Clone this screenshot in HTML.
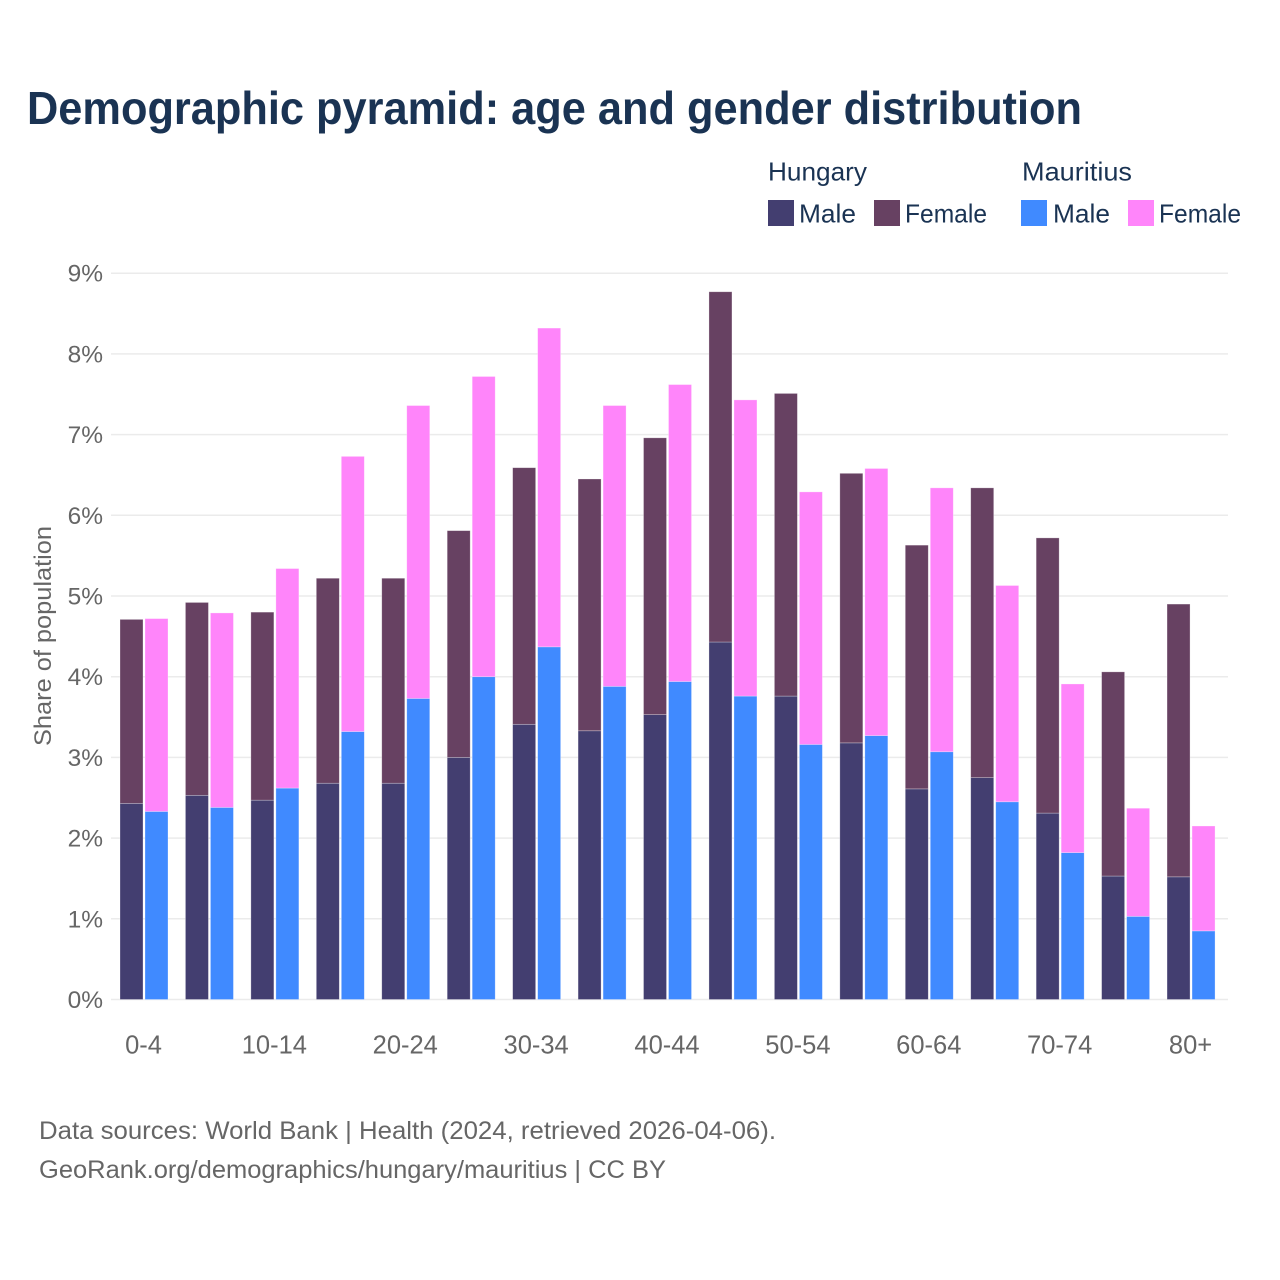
<!DOCTYPE html>
<html lang="en">
<head>
<meta charset="utf-8">
<title>Demographic pyramid: age and gender distribution</title>
<style>
html,body{margin:0;padding:0;background:#fff;width:1280px;height:1280px;overflow:hidden}
svg{display:block}
text{font-family:"Liberation Sans",sans-serif}
</style>
</head>
<body>
<svg id="chart" xmlns="http://www.w3.org/2000/svg" width="1280" height="1280" viewBox="0 0 1280 1280">
  <rect x="0" y="0" width="1280" height="1280" fill="#ffffff"/>
  <text x="27" y="124" font-size="46" font-weight="700" fill="#1a3353" textLength="1055" lengthAdjust="spacingAndGlyphs">Demographic pyramid: age and gender distribution</text>

  <g font-size="26" fill="#1a3353">
    <text x="768" y="180.5" textLength="99" lengthAdjust="spacingAndGlyphs">Hungary</text>
    <text x="1022" y="180.5" textLength="110" lengthAdjust="spacingAndGlyphs">Mauritius</text>
    <rect x="768" y="200" width="26" height="26" fill="#433e70"/>
    <text x="799" y="222.5" textLength="57" lengthAdjust="spacingAndGlyphs">Male</text>
    <rect x="874" y="200" width="26" height="26" fill="#674162"/>
    <text x="905" y="222.5" textLength="82" lengthAdjust="spacingAndGlyphs">Female</text>
    <rect x="1021" y="200" width="26" height="26" fill="#408aff"/>
    <text x="1053" y="222.5" textLength="57" lengthAdjust="spacingAndGlyphs">Male</text>
    <rect x="1128" y="200" width="26" height="26" fill="#ff85fa"/>
    <text x="1159" y="222.5" textLength="82" lengthAdjust="spacingAndGlyphs">Female</text>
  </g>

  <g id="grid"></g>
  <g id="yticks"></g>
  <g id="bars"></g>
  <g id="xticks"></g>

  <text transform="translate(51,746) rotate(-90)" x="0" y="0" font-size="24" fill="#666666" textLength="220" lengthAdjust="spacingAndGlyphs">Share of population</text>

  <text x="39" y="1139" font-size="25" fill="#666666" textLength="737" lengthAdjust="spacingAndGlyphs">Data sources: World Bank | Health (2024, retrieved 2026-04-06).</text>
  <text x="39" y="1178" font-size="25" fill="#666666" textLength="627" lengthAdjust="spacingAndGlyphs">GeoRank.org/demographics/hungary/mauritius | CC BY</text>
</svg>
<script>
const ageGroups = ["0-4","5-9","10-14","15-19","20-24","25-29","30-34","35-39","40-44","45-49","50-54","55-59","60-64","65-69","70-74","75-79","80+"];
const xTickLabels = ["0-4","","10-14","","20-24","","30-34","","40-44","","50-54","","60-64","","70-74","","80+"];
const yTickValues = [0,1,2,3,4,5,6,7,8,9];
const hungaryMale = [2.43,2.53,2.47,2.68,2.68,3.00,3.41,3.33,3.53,4.43,3.76,3.18,2.61,2.75,2.31,1.53,1.52];
const hungaryFemale = [2.28,2.39,2.33,2.54,2.54,2.81,3.18,3.12,3.43,4.34,3.75,3.34,3.02,3.59,3.41,2.53,3.38];
const mauritiusMale = [2.33,2.38,2.62,3.32,3.73,4.00,4.37,3.88,3.94,3.76,3.16,3.27,3.07,2.45,1.82,1.03,0.85];
const mauritiusFemale = [2.39,2.41,2.72,3.41,3.63,3.72,3.95,3.48,3.68,3.67,3.13,3.31,3.27,2.68,2.09,1.34,1.30];

const SVG_NS = "http://www.w3.org/2000/svg";
const plot = {left:111, right:1228, zeroY:999.5, perUnit:80.7, firstBar:120, step:65.44, barW:23, pairOffset:25};
const colors = {hm:"#433e70", hf:"#674162", mm:"#408aff", mf:"#ff85fa"};

function yScale(v){ return plot.zeroY - v * plot.perUnit; }
function xScale(i){ return plot.firstBar + i * plot.step; }

function make(tag, attrs, parent){
  const el = document.createElementNS(SVG_NS, tag);
  for (const k in attrs) el.setAttribute(k, attrs[k]);
  parent.appendChild(el);
  return el;
}

const gridG = document.getElementById("grid");
const yTickG = document.getElementById("yticks");
yTickValues.forEach(function(t){
  const line = make("line", {x1:plot.left, x2:plot.right, y1:yScale(t), y2:yScale(t), stroke:"#ebebeb", "stroke-width":1.5}, gridG);
  
  
  const label = make("text", {x:103, y:yScale(t)+8.5, "text-anchor":"end", "font-size":24.5, fill:"#666666"}, yTickG);
  
  
  label.textContent = t + "%";
});

const barsG = document.getElementById("bars");
function drawBar(x, base, value, fill, name){
  const top = yScale(base + value);
  const rect = make("rect", {x:x, y:top, width:plot.barW, height:yScale(base) - top, fill:fill, stroke:"#ffffff", "stroke-opacity":0.4, "stroke-width":0.7}, barsG);
  
  
}
ageGroups.forEach(function(age, i){
  const x1 = xScale(i);
  const x2 = x1 + plot.pairOffset;
  drawBar(x1, 0, hungaryMale[i], colors.hm, "bar-hungary-male");
  drawBar(x1, hungaryMale[i], hungaryFemale[i], colors.hf, "bar-hungary-female");
  drawBar(x2, 0, mauritiusMale[i], colors.mm, "bar-mauritius-male");
  drawBar(x2, mauritiusMale[i], mauritiusFemale[i], colors.mf, "bar-mauritius-female");
});

const xTickG = document.getElementById("xticks");
xTickLabels.forEach(function(lbl, i){
  if (!lbl) return;
  const label = make("text", {x:xScale(i) + (plot.barW + plot.pairOffset)/2 - 0.5, y:1053.5, "text-anchor":"middle", "font-size":25.5, fill:"#666666"}, xTickG);
  
  
  label.textContent = lbl;
});
</script>
</body>
</html>
